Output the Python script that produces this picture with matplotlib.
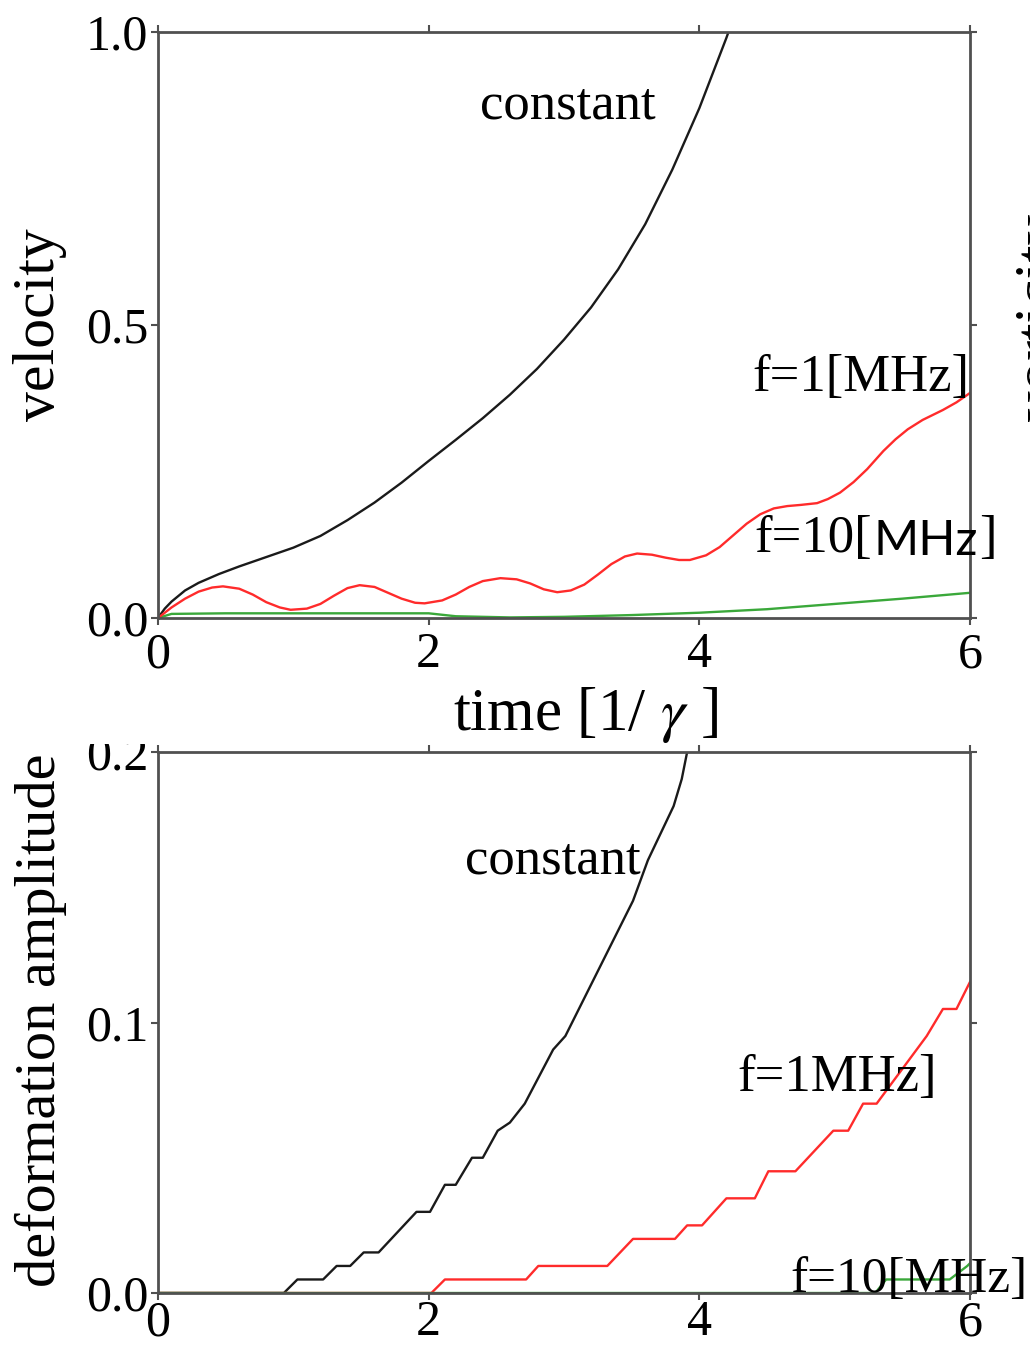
import matplotlib
matplotlib.use("Agg")
import matplotlib.pyplot as plt
from matplotlib.patches import Rectangle

# ---- velocity vs time ----
t_const_v = [0, 0.05, 0.1, 0.2, 0.3, 0.45, 0.6, 0.8, 1.0, 1.2, 1.4, 1.6, 1.8,
             2.0, 2.2, 2.4, 2.6, 2.8, 3.0, 3.2, 3.4, 3.6, 3.8, 4.0, 4.2, 4.4]
v_const = [0, 0.016, 0.028, 0.047, 0.060, 0.075, 0.088, 0.104, 0.12, 0.14,
           0.167, 0.197, 0.231, 0.268, 0.304, 0.341, 0.381, 0.425, 0.475, 0.53,
           0.595, 0.672, 0.765, 0.87, 0.99, 1.12]

t_1mhz_v = [0, 0.1, 0.2, 0.3, 0.4, 0.48, 0.6, 0.7, 0.8, 0.9, 0.98, 1.1, 1.2,
            1.3, 1.4, 1.49, 1.6, 1.7, 1.8, 1.9, 1.97, 2.1, 2.2, 2.3, 2.4, 2.53,
            2.65, 2.75, 2.85, 2.95, 3.05, 3.15, 3.25, 3.35, 3.45, 3.54, 3.65,
            3.75, 3.85, 3.93, 4.05, 4.15, 4.25, 4.35, 4.45, 4.55, 4.65, 4.75,
            4.87, 4.95, 5.04, 5.14, 5.24, 5.36, 5.45, 5.54, 5.65, 5.8, 5.9, 6.0]
v_1mhz = [0, 0.018, 0.033, 0.045, 0.052, 0.054, 0.050, 0.040, 0.027, 0.018,
          0.014, 0.016, 0.024, 0.038, 0.051, 0.056, 0.053, 0.043, 0.033, 0.026,
          0.025, 0.030, 0.040, 0.053, 0.063, 0.068, 0.066, 0.059, 0.049, 0.044,
          0.047, 0.057, 0.074, 0.092, 0.105, 0.110, 0.108, 0.103, 0.099, 0.099,
          0.107, 0.121, 0.141, 0.161, 0.177, 0.187, 0.191, 0.193, 0.196, 0.203,
          0.214, 0.232, 0.254, 0.285, 0.305, 0.322, 0.338, 0.355, 0.368, 0.384]

t_10mhz_v = [0, 0.1, 0.5, 1.0, 1.5, 2.0, 2.2, 2.6, 3.0, 3.5, 4.0, 4.5, 5.0, 5.5, 6.0]
v_10mhz = [0, 0.007, 0.008, 0.008, 0.008, 0.008, 0.003, 0.001, 0.002, 0.005,
           0.009, 0.015, 0.024, 0.033, 0.043]

# ---- deformation amplitude vs time ----
t_const_d = [0, 0.93, 1.03, 1.22, 1.32, 1.42, 1.52, 1.63, 1.91, 2.01, 2.12, 2.2,
             2.32, 2.4, 2.51, 2.6, 2.71, 2.92, 3.01, 3.51, 3.62, 3.81, 3.87, 3.95]
d_const = [0, 0, 0.005, 0.005, 0.01, 0.01, 0.015, 0.015, 0.03, 0.03, 0.04, 0.04,
           0.05, 0.05, 0.06, 0.063, 0.07, 0.09, 0.095, 0.145, 0.16, 0.18, 0.19, 0.21]

t_1mhz_d = [0, 2.02, 2.12, 2.72, 2.81, 3.32, 3.51, 3.82, 3.91, 4.02, 4.2, 4.41,
            4.51, 4.71, 4.99, 5.1, 5.21, 5.31, 5.68, 5.8, 5.9, 6.0]
d_1mhz = [0, 0, 0.005, 0.005, 0.01, 0.01, 0.02, 0.02, 0.025, 0.025, 0.035, 0.035,
          0.045, 0.045, 0.06, 0.06, 0.07, 0.07, 0.095, 0.105, 0.105, 0.115]

t_10mhz_d = [0, 5.3, 5.38, 5.85, 5.98, 6.0]
d_10mhz = [0, 0, 0.005, 0.005, 0.01, 0.011]

x_ticks = [0, 2, 4, 6]
v_ticks = [0.0, 0.5, 1.0]
d_ticks = [0.0, 0.1, 0.2]

BLACK = "#1a1a1a"
RED = "#ff2b2b"
GREEN = "#3aa83a"
SPINE = "#505050"

plt.rcParams["font.family"] = ["Liberation Serif", "DejaVu Serif"]
plt.rcParams["mathtext.fontset"] = "stix"

W, H = 1030, 1347
fig = plt.figure(figsize=(W / 100, H / 100), dpi=100)


def px_axes(left, top, right, bottom):
    return fig.add_axes([left / W, 1 - bottom / H, (right - left) / W, (bottom - top) / H])


def style(ax, yticks, yfmt, xpad):
    ax.set_xlim(0, 6)
    ax.set_ylim(yticks[0], yticks[-1])
    ax.set_xticks(x_ticks)
    ax.set_xticklabels([str(x) for x in x_ticks])
    ax.set_yticks(yticks)
    ax.set_yticklabels([yfmt.format(y) for y in yticks])
    for s in ax.spines.values():
        s.set_color(SPINE)
        s.set_linewidth(2.0)
    ax.tick_params(direction="out", length=5, width=1.5, color=SPINE,
                   top=True, right=True, labelsize=36, pad=2)
    ax.tick_params(axis="x", pad=xpad)


lw = 1.7

# upper panel: velocity
ax1 = px_axes(158, 32, 970, 618)
ax1.plot(t_const_v, v_const, color=BLACK, lw=lw)
ax1.plot(t_10mhz_v, v_10mhz, color=GREEN, lw=lw)
ax1.plot(t_1mhz_v, v_1mhz, color=RED, lw=lw)
style(ax1, v_ticks, "{:.1f}", 5)
ax1.set_ylabel("velocity", fontsize=43)
ax1.yaxis.set_label_coords(-0.112, 0.5)
ax1.set_xlabel("time [1/ $\\gamma$ ]", fontsize=44)
ax1.xaxis.set_label_coords(0.527, -0.115)

ax1.text(2.38, 0.853, "constant", fontsize=38, va="baseline", ha="left")
ax1.text(4.39, 0.388, "f=1[MHz]", fontsize=38, va="baseline", ha="left")
p1 = ax1.text(4.41, 0.113, "f=10[", fontsize=38, va="baseline", ha="left", clip_on=False)
p2 = ax1.annotate("MHz", xy=(1, 0), xycoords=p1, xytext=(1, 0), textcoords="offset points",
                  fontsize=35, family="Lato", va="bottom", ha="left", annotation_clip=False)
ax1.annotate("]", xy=(1, 0), xycoords=p2, xytext=(1, 0), textcoords="offset points",
             fontsize=38, va="bottom", ha="left", annotation_clip=False)

# lower panel: deformation amplitude
ax2 = px_axes(158, 752, 970, 1293)
ax2.plot(t_const_d, d_const, color=BLACK, lw=lw)
ax2.plot(t_1mhz_d, d_1mhz, color=RED, lw=lw)
ax2.plot(t_10mhz_d, d_10mhz, color=GREEN, lw=lw)
style(ax2, d_ticks, "{:.1f}", 0)
ax2.set_ylabel("deformation amplitude", fontsize=42)
ax2.yaxis.set_label_coords(-0.112, 0.505)

ax2.text(2.27, 0.155, "constant", fontsize=38, va="baseline", ha="left")
ax2.text(4.28, 0.0745, "f=1MHz]", fontsize=38, va="baseline", ha="left")
ax2.text(4.67, 0.0005, "f=10[MHz]", fontsize=37, va="baseline", ha="left", clip_on=False)

# neighbouring panel's axis label, running off the right edge
fig.text(1014 / W, 1 - 317 / H, "vorticity", rotation=90, fontsize=44,
         ha="left", va="center")

# the lower panel is cut just above its top tick label
fig.patches.append(Rectangle((0, 1 - 744 / H), 157 / W, 20 / H,
                             transform=fig.transFigure, facecolor="white",
                             edgecolor="none", zorder=10))

fig.savefig("out.png", dpi=100, facecolor="white")
